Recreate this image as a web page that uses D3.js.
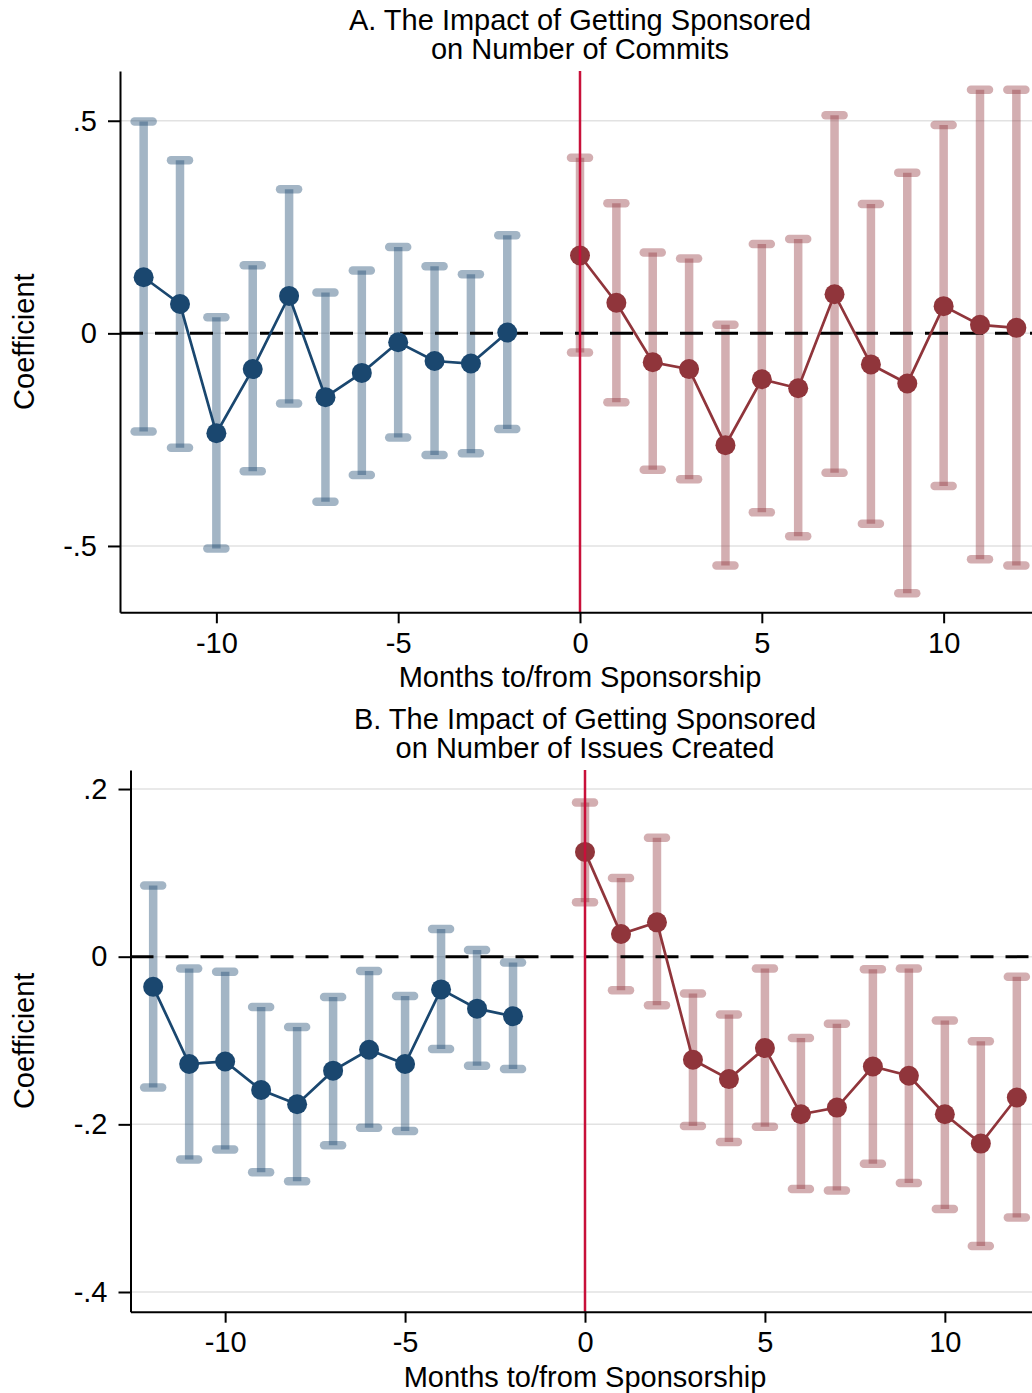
<!DOCTYPE html>
<html>
<head>
<meta charset="utf-8">
<script src="https://cdn.jsdelivr.net/npm/d3@7"></script>
<style>
  body { margin: 0; background: #fff; }
  svg { display: block; font-family: "Liberation Sans", Arial, sans-serif; }
</style>
</head>
<body>
<svg id="chart"></svg>
<script>
// months relative to sponsorship (month -1 is the omitted reference period)
const preMonths  = [-12, -11, -10, -9, -8, -7, -6, -5, -4, -3, -2];
const postMonths = [0, 1, 2, 3, 4, 5, 6, 7, 8, 9, 10, 11, 12];

// Panel A: number of commits
const commitsPreCoef  = [0.132, 0.069, -0.235, -0.084, 0.088, -0.150, -0.093, -0.021, -0.065, -0.071, 0.002];
const commitsPreLo    = [-0.231, -0.269, -0.506, -0.324, -0.165, -0.396, -0.333, -0.245, -0.286, -0.282, -0.225];
const commitsPreHi    = [0.498, 0.407, 0.038, 0.160, 0.339, 0.096, 0.148, 0.203, 0.158, 0.139, 0.231];
const commitsPostCoef = [0.183, 0.072, -0.068, -0.084, -0.263, -0.108, -0.129, 0.092, -0.073, -0.118, 0.064, 0.020, 0.013];
const commitsPostLo   = [-0.045, -0.162, -0.321, -0.343, -0.546, -0.421, -0.477, -0.328, -0.448, -0.611, -0.359, -0.531, -0.546];
const commitsPostHi   = [0.413, 0.306, 0.190, 0.176, 0.020, 0.210, 0.222, 0.513, 0.304, 0.378, 0.490, 0.573, 0.573];

// Panel B: number of issues created
const issuesPreCoef  = [-0.036, -0.128, -0.125, -0.159, -0.176, -0.136, -0.111, -0.128, -0.039, -0.062, -0.071];
const issuesPreLo    = [-0.156, -0.242, -0.230, -0.257, -0.268, -0.225, -0.204, -0.208, -0.110, -0.130, -0.134];
const issuesPreHi    = [0.085, -0.014, -0.018, -0.060, -0.084, -0.048, -0.017, -0.047, 0.033, 0.008, -0.007];
const issuesPostCoef = [0.125, 0.027, 0.041, -0.123, -0.146, -0.109, -0.188, -0.180, -0.131, -0.142, -0.188, -0.223, -0.168];
const issuesPostLo   = [0.065, -0.040, -0.058, -0.202, -0.221, -0.203, -0.277, -0.279, -0.247, -0.270, -0.301, -0.345, -0.311];
const issuesPostHi   = [0.184, 0.094, 0.142, -0.044, -0.069, -0.014, -0.097, -0.080, -0.015, -0.014, -0.076, -0.101, -0.024];

// axis ticks
const xTicks = [-10, -5, 0, 5, 10];
const xLabels = ["-10", "-5", "0", "5", "10"];
const commitsYTicks = [-0.5, 0, 0.5];
const commitsYLabels = ["-.5", "0", ".5"];
const issuesYTicks = [-0.4, -0.2, 0, 0.2];
const issuesYLabels = ["-.4", "-.2", "0", ".2"];

const zip = ( xs, c, lo, hi ) => xs.map( ( x, i ) => ({ x: x, coef: c[i], lo: lo[i], hi: hi[i] }) );

class CoefPlot {
    constructor( config, pre, post ) {
        this.config = config;
        this.pre = pre;
        this.post = post;
        this.init();
        this.render();
    }

    init() {
        let self = this;
        const c = self.config;

        self.g = d3.select( c.parent ).append( 'g' );

        self.xscale = d3.scaleLinear()
            .domain( c.xdomain )
            .range( [ c.left, c.right ] );

        self.yscale = d3.scaleLinear()
            .domain( c.ydomain )
            .range( [ c.bottom, c.top ] );
    }

    render() {
        let self = this;
        const c = self.config;
        const xs = self.xscale, ys = self.yscale;
        const fs = 29;

        // titles
        c.title.forEach( ( t, i ) => {
            self.g.append( 'text' )
                .attr( 'x', xs( 0 ) )
                .attr( 'y', c.top - 41 + i * 29 )
                .attr( 'text-anchor', 'middle' )
                .style( 'font-size', fs + 'px' )
                .text( t );
        });

        // gridlines
        self.g.selectAll( 'line.grid' )
            .data( c.yticks )
            .enter().append( 'line' )
            .attr( 'class', 'grid' )
            .attr( 'x1', c.left ).attr( 'x2', c.right )
            .attr( 'y1', d => ys( d ) ).attr( 'y2', d => ys( d ) )
            .attr( 'stroke', '#e2e2e2' )
            .attr( 'stroke-width', 1.5 );

        const groups = [
            { data: self.pre,  dark: '#1a476f' },
            { data: self.post, dark: '#90353b' }
        ];

        // confidence intervals
        groups.forEach( grp => {
            const ci = self.g.append( 'g' )
                .attr( 'stroke', grp.dark )
                .attr( 'stroke-opacity', 0.4 );
            ci.selectAll( 'line.bar' )
                .data( grp.data )
                .enter().append( 'line' )
                .attr( 'x1', d => xs( d.x ) ).attr( 'x2', d => xs( d.x ) )
                .attr( 'y1', d => ys( d.lo ) ).attr( 'y2', d => ys( d.hi ) )
                .attr( 'stroke-width', 8.5 );
            [ 'lo', 'hi' ].forEach( k => {
                ci.selectAll( 'line.cap-' + k )
                    .data( grp.data )
                    .enter().append( 'line' )
                    .attr( 'x1', d => xs( d.x ) - 9 ).attr( 'x2', d => xs( d.x ) + 9 )
                    .attr( 'y1', d => ys( d[k] ) ).attr( 'y2', d => ys( d[k] ) )
                    .attr( 'stroke-width', 8.5 )
                    .attr( 'stroke-linecap', 'round' );
            });
        });

        // zero line
        self.g.append( 'line' )
            .attr( 'x1', c.left ).attr( 'x2', c.right )
            .attr( 'y1', ys( 0 ) ).attr( 'y2', ys( 0 ) )
            .attr( 'stroke', '#000' )
            .attr( 'stroke-width', 3 )
            .attr( 'stroke-dasharray', '23 12' );

        // coefficient lines and markers
        const line = d3.line().x( d => xs( d.x ) ).y( d => ys( d.coef ) );
        groups.forEach( grp => {
            self.g.append( 'path' )
                .datum( grp.data )
                .attr( 'd', line )
                .attr( 'fill', 'none' )
                .attr( 'stroke', grp.dark )
                .attr( 'stroke-width', 2.7 );
            self.g.selectAll( null )
                .data( grp.data )
                .enter().append( 'circle' )
                .attr( 'cx', d => xs( d.x ) )
                .attr( 'cy', d => ys( d.coef ) )
                .attr( 'r', 10 )
                .attr( 'fill', grp.dark );
        });

        // sponsorship line
        self.g.append( 'line' )
            .attr( 'x1', xs( 0 ) ).attr( 'x2', xs( 0 ) )
            .attr( 'y1', c.top ).attr( 'y2', c.bottom )
            .attr( 'stroke', '#c8103a' )
            .attr( 'stroke-width', 2.5 );

        // axes
        const xaxis = d3.axisBottom( xs )
            .tickValues( xTicks )
            .tickFormat( ( d, i ) => xLabels[i] )
            .tickSize( 11 )
            .tickSizeOuter( 0 )
            .tickPadding( 9 );
        const yaxis = d3.axisLeft( ys )
            .tickValues( c.yticks )
            .tickFormat( ( d, i ) => c.ylabels[i] )
            .tickSize( 12 )
            .tickSizeOuter( 0 )
            .tickPadding( 11 );

        [ self.g.append( 'g' ).attr( 'transform', `translate(0, ${c.bottom})` ).call( xaxis ),
          self.g.append( 'g' ).attr( 'transform', `translate(${c.left}, 0)` ).call( yaxis ) ]
            .forEach( a => {
                a.selectAll( 'path, line' ).attr( 'stroke', '#000' ).attr( 'stroke-width', 2 );
                a.selectAll( 'text' ).attr( 'fill', '#000' ).style( 'font-size', fs + 'px' );
                a.attr( 'font-family', null ).attr( 'font-size', null );
            });

        // axis titles
        self.g.append( 'text' )
            .attr( 'x', xs( 0 ) )
            .attr( 'y', c.bottom + 75 )
            .attr( 'text-anchor', 'middle' )
            .style( 'font-size', fs + 'px' )
            .text( 'Months to/from Sponsorship' );

        self.g.append( 'text' )
            .attr( 'transform', `translate(34, ${( c.top + c.bottom ) / 2}) rotate(-90)` )
            .attr( 'text-anchor', 'middle' )
            .style( 'font-size', fs + 'px' )
            .text( 'Coefficient' );
    }
}

d3.select( '#chart' ).attr( 'width', 1032 ).attr( 'height', 1393 );

new CoefPlot( {
    parent: '#chart',
    title: [ 'A. The Impact of Getting Sponsored', 'on Number of Commits' ],
    left: 120, right: 1040, top: 71, bottom: 612.3,
    xdomain: [ -12.65, 12.65 ],
    ydomain: [ -0.656, 0.617 ],
    yticks: commitsYTicks,
    ylabels: commitsYLabels
}, zip( preMonths, commitsPreCoef, commitsPreLo, commitsPreHi ),
   zip( postMonths, commitsPostCoef, commitsPostLo, commitsPostHi ) );

new CoefPlot( {
    parent: '#chart',
    title: [ 'B. The Impact of Getting Sponsored', 'on Number of Issues Created' ],
    left: 130.5, right: 1039.5, top: 770, bottom: 1311.7,
    xdomain: [ -12.63, 12.63 ],
    ydomain: [ -0.4235, 0.2227 ],
    yticks: issuesYTicks,
    ylabels: issuesYLabels
}, zip( preMonths, issuesPreCoef, issuesPreLo, issuesPreHi ),
   zip( postMonths, issuesPostCoef, issuesPostLo, issuesPostHi ) );
</script>
</body>
</html>
